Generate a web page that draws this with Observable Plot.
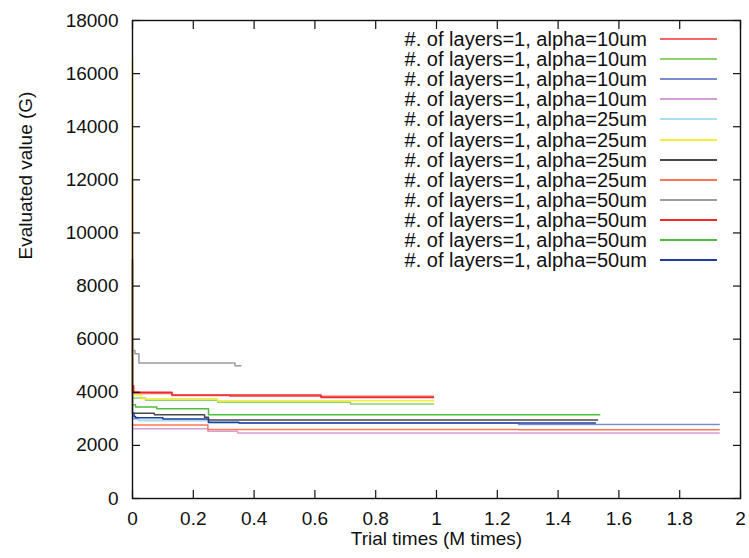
<!DOCTYPE html>
<html><head><meta charset="utf-8">
<script src="https://cdn.jsdelivr.net/npm/d3@7"></script>
<script src="https://cdn.jsdelivr.net/npm/@observablehq/plot@0.6"></script>
<style>
body{margin:0;background:#fff;}
#wrap{position:relative;width:749px;height:558px;font-family:"Liberation Sans",Arial,sans-serif;}
#legend{position:absolute;left:0;top:0;}
.lrow{position:absolute;height:20px;}
.ltext{position:absolute;right:0;top:0;line-height:20px;font-size:20px;color:#111;white-space:nowrap;}
.lline{position:absolute;height:2px;}
</style></head><body><div id="wrap"></div>
<script>
const labels = [
  "#. of layers=1, alpha=10um","#. of layers=1, alpha=10um","#. of layers=1, alpha=10um","#. of layers=1, alpha=10um",
  "#. of layers=1, alpha=25um","#. of layers=1, alpha=25um","#. of layers=1, alpha=25um","#. of layers=1, alpha=25um",
  "#. of layers=1, alpha=50um","#. of layers=1, alpha=50um","#. of layers=1, alpha=50um","#. of layers=1, alpha=50um"
];
const colors = ["#f26868","#8ed26a","#7a8cd4","#d49ed4","#a8e0ee","#f6ee3c","#484848","#ff7656","#9c9c9c","#f02828","#4cc03a","#1e3ea0"];
const times = [
  [0, 0, 0.13, 0.32, 0.99],
  [0, 0.043, 0.28, 0.717, 0.99],
  [0, 0.02, 0.25, 1.27, 1.93],
  [0, 0.248, 0.346, 1.93],
  [0, 0.02, 0.25, 1.27],
  [0, 0, 0.03, 0.28, 0.99],
  [0, 0, 0.072, 0.237, 0.25, 1.53],
  [0, 0.248, 1.27, 1.93],
  [0, 0.008, 0.021, 0.337, 0.357],
  [0, 0.004, 0.13, 0.62, 0.99],
  [0, 0.01, 0.08, 0.25, 1.537],
  [0, 0.005, 0.01, 0.1, 0.25, 0.35, 1.523]
];
const values = [
  [12000, 3950, 3880, 3850, 3850],
  [3780, 3700, 3620, 3555, 3555],
  [3000, 2940, 2840, 2790, 2790],
  [2630, 2535, 2470, 2470],
  [3050, 2950, 2845, 2845],
  [16500, 3900, 3760, 3685, 3685],
  [9000, 3210, 3150, 3060, 2955, 2955],
  [2770, 2600, 2585, 2585],
  [5570, 5450, 5100, 5000, 5000],
  [4250, 4000, 3900, 3800, 3800],
  [3530, 3450, 3380, 3155, 3155],
  [3210, 3090, 3040, 2990, 2875, 2840, 2840]
];
const xTicks = [0, 0.2, 0.4, 0.6, 0.8, 1, 1.2, 1.4, 1.6, 1.8, 2];
const xTickLabels = ["0","0.2","0.4","0.6","0.8","1","1.2","1.4","1.6","1.8","2"];
const yTicks = [0, 2000, 4000, 6000, 8000, 10000, 12000, 14000, 16000, 18000];
const yTickLabels = ["0","2000","4000","6000","8000","10000","12000","14000","16000","18000"];

const rows = [];
labels.forEach((lab, i) => times[i].forEach((t, j) => rows.push({series: i, t, v: values[i][j]})));

const font = '"Liberation Sans", Arial, sans-serif';
const chart = Plot.plot({
  width: 749, height: 558,
  marginLeft: 132, marginRight: 9, marginTop: 20, marginBottom: 60,
  style: {fontFamily: font, fontSize: "19px", color: "#111", background: "#fff"},
  x: {domain: [0, 2]},
  y: {domain: [0, 18000]},
  marks: [
    ...labels.map((lab, i) => Plot.line(rows.filter(d => d.series === i), {
      x: "t", y: "v", curve: "step-after", stroke: colors[i], strokeWidth: 1.5
    })),
    Plot.axisX({ticks: xTicks, tickSize: 0, tickPadding: 13, tickFormat: d => xTickLabels[xTicks.indexOf(d)], label: null}),
    Plot.axisX({ticks: xTicks, anchor: "bottom", tickSize: -8, tickFormat: () => "", label: null, strokeWidth: 1.2}),
    Plot.axisX({ticks: xTicks, anchor: "top", tickSize: -8, tickFormat: () => "", label: null, strokeWidth: 1.2}),
    Plot.axisY({ticks: yTicks, tickSize: 0, tickPadding: 14, tickFormat: d => yTickLabels[yTicks.indexOf(d)], label: null}),
    Plot.axisY({ticks: yTicks, anchor: "left", tickSize: -8, tickFormat: () => "", label: null, strokeWidth: 1.2}),
    Plot.axisY({ticks: yTicks, anchor: "right", tickSize: -8, tickFormat: () => "", label: null, strokeWidth: 1.2}),
    Plot.frame({stroke: "#111", strokeWidth: 1.4}),
    Plot.text(["Trial times (M times)"], {text: d => d, frameAnchor: "bottom", dy: 40, fontSize: 19, lineAnchor: "middle", fill: "#111"}),
    Plot.text(["Evaluated value (G)"], {text: d => d, frameAnchor: "left", dx: -107, rotate: -90, fontSize: 19, lineAnchor: "middle", fill: "#111"})
  ]
});
const wrap = document.getElementById("wrap");
wrap.appendChild(chart);

// legend inside the plot area (top right)
const legend = document.createElement("div");
legend.id = "legend";
labels.forEach((lab, i) => {
  const r = document.createElement("div");
  r.className = "lrow";
  const cy = 39 + 20.1 * i;
  r.style.left = "300px"; r.style.width = "347px"; r.style.top = (cy - 10) + "px";
  const t = document.createElement("div");
  t.className = "ltext"; t.textContent = lab;
  r.appendChild(t);
  legend.appendChild(r);
  const l = document.createElement("div");
  l.className = "lline";
  l.style.left = "660px"; l.style.width = "57px"; l.style.top = (cy - 1) + "px";
  l.style.background = colors[i];
  legend.appendChild(l);
});
wrap.appendChild(legend);
</script></body></html>
